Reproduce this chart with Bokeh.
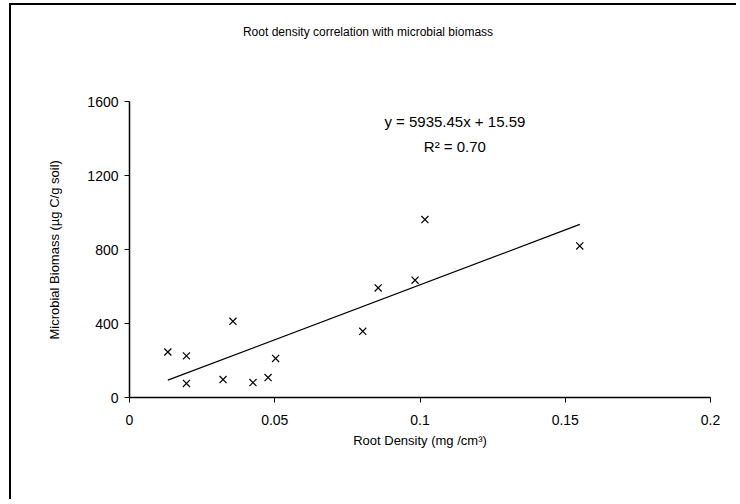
from bokeh.plotting import figure
from bokeh.models import Range1d, FixedTicker, Label
from bokeh.embed import file_html
from bokeh.resources import INLINE

# Data
root_density = [0.0132, 0.0196, 0.0196, 0.0322, 0.0356, 0.0425, 0.0477, 0.0503,
                0.0803, 0.0856, 0.0983, 0.1017, 0.155]
microbial_biomass = [246, 225, 76, 97, 412, 81, 108, 211, 358, 592, 634, 962, 819]
slope = 5935.45
intercept = 15.59
r_squared = 0.70
x_ticks = [0, 0.05, 0.1, 0.15, 0.2]
x_tick_labels = {0: "0", 0.05: "0.05", 0.1: "0.1", 0.15: "0.15", 0.2: "0.2"}
y_ticks = [0, 400, 800, 1200, 1600]
title_text = "Root density correlation with microbial biomass"
x_label = "Root Density (mg /cm³)"
y_label = "Microbial Biomass (µg C/g soil)"

FONT = "Liberation Sans"

# Layout: the plotting frame extends above the 1600 axis end so that the title
# can sit inside it; the y axis line is bounded to 0..1600.
Y_AXIS_MAX = 1600
FRAME_H = 382          # px, frame height
AXIS_H = 296           # px, length of the 0..1600 axis
y_top = Y_AXIS_MAX * FRAME_H / AXIS_H

p = figure(width=727, height=496, output_backend="svg", toolbar_location=None,
           x_range=Range1d(0, 0.2), y_range=Range1d(0, y_top),
           min_border_left=118, min_border_right=28, min_border_top=10, min_border_bottom=104)
p.styles = {"border-left": "2px solid black", "border-top": "2px solid black",
            "margin-top": "3px", "margin-left": "9px"}
p.title.visible = False
p.outline_line_color = None
p.grid.visible = False

for ax in (p.xaxis[0], p.yaxis[0]):
    ax.axis_line_color = "black"
    ax.axis_line_width = 1.5
    ax.major_tick_line_color = "black"
    ax.major_tick_out = 5
    ax.major_tick_in = 0
    ax.minor_tick_line_color = None
    ax.major_label_text_font = FONT
    ax.major_label_text_font_size = "14px"
    ax.major_label_text_color = "black"
    ax.axis_label_text_font = FONT
    ax.axis_label_text_font_size = "13px"
    ax.axis_label_text_font_style = "normal"
    ax.axis_label_text_color = "black"

p.xaxis.ticker = FixedTicker(ticks=x_ticks)
p.xaxis.major_label_overrides = x_tick_labels
p.xaxis.major_label_standoff = 12
p.xaxis.axis_label = x_label
p.xaxis.axis_label_standoff = 5

p.yaxis.ticker = FixedTicker(ticks=y_ticks)
p.yaxis.bounds = (0, Y_AXIS_MAX)
p.yaxis.major_label_standoff = 6
# trailing no-break spaces keep the label centred on the 0..1600 axis part
p.yaxis.axis_label = y_label + "\u00a0" * 24
p.yaxis.axis_label_standoff = 22

# Chart title
title = Label(x=0.0821, y=1973, text=title_text,
              text_align="center", text_baseline="middle",
              text_font=FONT, text_font_size="12px", text_color="black")
p.add_layout(title)

# Trend line over the data range
x0, x1 = min(root_density), max(root_density)
p.line([x0, x1], [slope * x0 + intercept, slope * x1 + intercept], line_color="black", line_width=1.2)

p.scatter(root_density, microbial_biomass, marker="x", size=10, line_color="black", line_width=1.2)

eq1 = Label(x=0.112, y=1492, text=f"y = {slope:.2f}x + {intercept:.2f}", text_align="center",
            text_baseline="middle", text_font=FONT, text_font_size="15px", text_color="black")
eq2 = Label(x=0.112, y=1357, text=f"R² = {r_squared:.2f}", text_align="center",
            text_baseline="middle", text_font=FONT, text_font_size="15px", text_color="black")
p.add_layout(eq1)
p.add_layout(eq2)

open("out.html", "w").write(file_html(p, INLINE))
